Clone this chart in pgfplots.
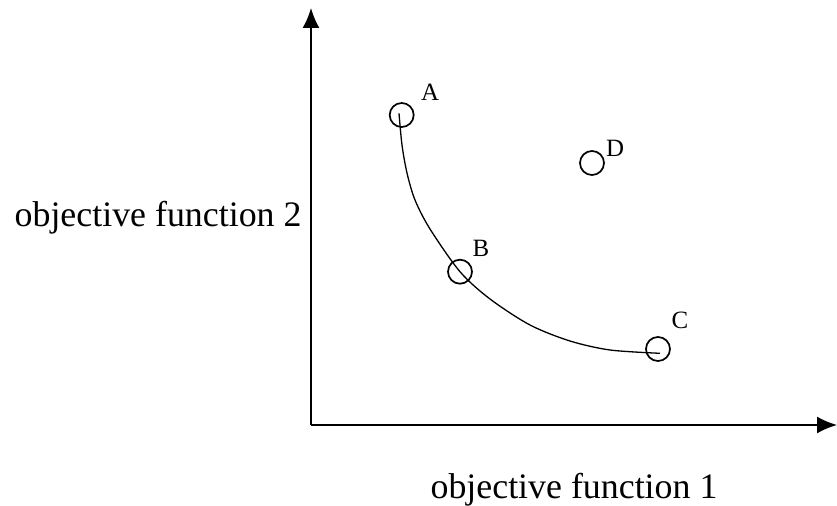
\documentclass[border=0pt]{standalone}
\usepackage{fontspec}
\setmainfont{Liberation Serif}
\usepackage{pgfplots}
\pgfplotsset{compat=1.18}
\usetikzlibrary{arrows.meta}
\begin{document}
\begin{tikzpicture}
\useasboundingbox (0,0) rectangle (837bp,506bp);
\begin{axis}[
  at={(311bp,81bp)}, anchor=south west,
  x=1bp, y=1bp,
  xmin=311, xmax=837, ymin=0, ymax=417,
  axis lines=left,
  ticks=none,
  clip=false,
  every outer x axis line/.append style={line width=1.8bp,-{Latex[length=20bp,width=17bp]}},
  every outer y axis line/.append style={line width=1.8bp,-{Latex[length=20bp,width=17bp]}},
  xlabel={objective function 1},
  ylabel={objective function 2},
  every axis x label/.style={at={(axis description cs:0.5,-0.156)},anchor=center,font=\fontsize{36}{43}\selectfont},
  every axis y label/.style={at={(axis description cs:-0.0114,0.496)},anchor=east,rotate=0,font=\fontsize{36}{43}\selectfont},
]
% Pareto front curve A -> B -> C
\addplot[black, line width=1.3bp, smooth] coordinates {
  (399,311.7) (402,280) (407,252) (415,225) (430,196)
  (460,153.3) (490,126) (530,100) (570,84) (610,75) (660,71.7)
};
% points A, B, C, D
\addplot[only marks, mark=o, mark size=12bp, mark options={line width=1.7bp, black}] coordinates {
  (401.7,310) (460,153.3) (658,76) (592,262)
};
\node[font=\fontsize{25}{29}\selectfont] at (axis cs:430,332.3) {A};
\node[font=\fontsize{25}{29}\selectfont] at (axis cs:481,177) {B};
\node[font=\fontsize{25}{29}\selectfont] at (axis cs:680,105) {C};
\node[font=\fontsize{25}{29}\selectfont] at (axis cs:615,277) {D};
\end{axis}
\end{tikzpicture}
\end{document}
